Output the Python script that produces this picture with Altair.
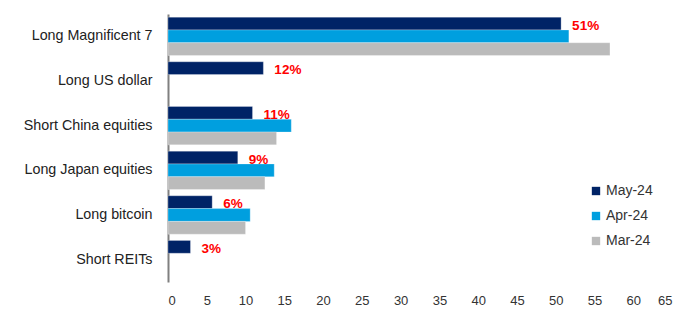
import altair as alt
import pandas as pd

categories = ["Long Magnificent 7", "Long US dollar", "Short China equities",
              "Long Japan equities", "Long bitcoin", "Short REITs"]
series = ["May-24", "Apr-24", "Mar-24"]
may = [50.7, 12.3, 10.9, 9.0, 5.7, 2.9]
apr = [51.7, None, 15.9, 13.7, 10.6, None]
mar = [57.0, None, 14.0, 12.5, 10.0, None]
may_labels = ["51%", "12%", "11%", "9%", "6%", "3%"]
colors = ["#002366", "#009FDF", "#BBBBBB"]

rows = []
for i, c in enumerate(categories):
    for s, vals in zip(series, [may, apr, mar]):
        if vals[i] is not None:
            rows.append({"category": c, "series": s, "value": vals[i],
                         "label": may_labels[i] if s == "May-24" else ""})
df = pd.DataFrame(rows)

FONT = "Liberation Sans"

y_enc = alt.Y("category:N", sort=categories,
              scale=alt.Scale(paddingInner=0.14, paddingOuter=0.07),
              axis=alt.Axis(title=None, ticks=False, domain=True,
                            domainColor="#808080", domainWidth=2,
                            labelFontSize=14.3, labelColor="#222222",
                            labelFont=FONT, labelPadding=16, labelLimit=200))
yoff = alt.YOffset("series:N", scale=alt.Scale(domain=series, paddingInner=0))
x_enc = alt.X("value:Q", scale=alt.Scale(domain=[0, 65], nice=False),
              axis=alt.Axis(title=None, values=list(range(0, 70, 5)),
                            labelOverlap=False,
                            domain=False, ticks=False, grid=False,
                            labelFontSize=13, labelColor="#333333",
                            labelFont=FONT, labelPadding=12))

bars = alt.Chart(df).mark_bar(stroke="#ffffff", strokeOpacity=0.35,
                              strokeWidth=0.8).encode(
    y=y_enc, yOffset=yoff, x=x_enc,
    color=alt.Color("series:N",
                    scale=alt.Scale(domain=series, range=colors),
                    legend=alt.Legend(title=None, orient="none",
                                      legendX=421, legendY=170,
                                      symbolType="square", symbolSize=70,
                                      symbolStrokeWidth=0,
                                      labelFontSize=14, labelFont=FONT,
                                      labelColor="#333333", rowPadding=11,
                                      labelOffset=3)),
)

labels = alt.Chart(df).transform_filter(
    alt.datum.series == "May-24"
).mark_text(align="left", baseline="middle", dx=11, dy=2,
            fontWeight="bold", fontSize=13.5, color="#FF0000", font=FONT).encode(
    y=y_enc, yOffset=yoff, x=x_enc, text="label:N")

chart = alt.layer(bars, labels).properties(
    width=504, height=268,
    autosize=alt.AutoSizeParams(type="none"),
    padding={"left": 168, "top": 14, "right": 12, "bottom": 47},
).configure(background="white").configure_view(strokeWidth=0, stroke=None)

chart.save("out.html", embed_options={"renderer": "svg", "actions": False})
